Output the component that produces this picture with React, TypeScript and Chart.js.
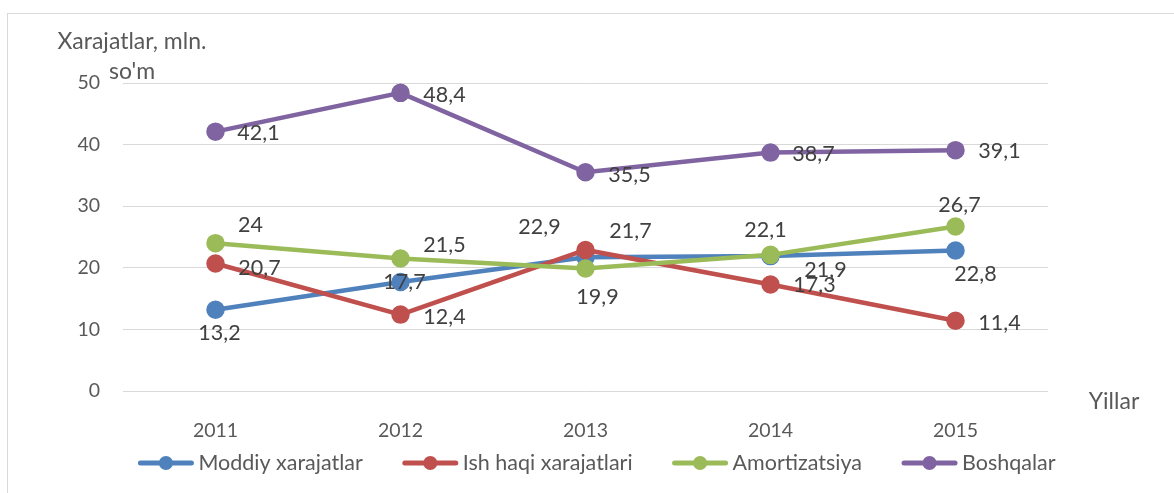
import React, { useEffect, useRef } from "react";
import { Chart, registerables } from "chart.js";

Chart.register(...registerables);

const years = ["2011", "2012", "2013", "2014", "2015"];
const seriesNames = ["Moddiy xarajatlar", "Ish haqi xarajatlari", "Amortizatsiya", "Boshqalar"];
const moddiy = [13.2, 17.7, 21.7, 21.9, 22.8];
const ishHaqi = [20.7, 12.4, 22.9, 17.3, 11.4];
const amortizatsiya = [24, 21.5, 19.9, 22.1, 26.7];
const boshqalar = [42.1, 48.4, 35.5, 38.7, 39.1];
const yTicks = [0, 10, 20, 30, 40, 50];

const colors = ["#4F81BD", "#C0504D", "#9BBB59", "#8064A2"];

// label offsets (px) relative to each point, per series
const labelOffsets: [number, number][][] = [
  [[4, 23], [4, 0], [45, -26], [55, 14], [20, 24]],
  [[44, 5], [44, 2], [-46, -23], [44, 1], [44, 2]],
  [[35, -18], [44, -13], [12, 29], [-5, -25], [4, -21]],
  [[43, 1], [44, 2], [44, 3], [43, 1], [44, 1]],
];

const FONT = "Lato, 'Open Sans', sans-serif";

export default function App() {
  const ref = useRef<HTMLCanvasElement | null>(null);
  useEffect(() => {
    if (!ref.current) return;
    const allSeries = [moddiy, ishHaqi, amortizatsiya, boshqalar];
    const overlay = {
      id: "overlay",
      afterDatasetsDraw(chart: any) {
        const ctx = chart.ctx;
        ctx.save();
        // data labels
        ctx.font = `21.5px ${FONT}`;
        ctx.fillStyle = "#404040";
        ctx.textAlign = "center";
        ctx.textBaseline = "middle";
        chart.data.datasets.forEach((ds: any, i: number) => {
          const meta = chart.getDatasetMeta(i);
          meta.data.forEach((pt: any, j: number) => {
            const [dx, dy] = labelOffsets[i][j];
            const txt = String(ds.data[j]).replace(".", ",");
            ctx.fillText(txt, pt.x + dx, pt.y + dy);
          });
        });
        // axis titles
        ctx.fillStyle = "#595959";
        ctx.font = `23px ${FONT}`;
        ctx.fillText("Xarajatlar, mln.", 132, 42);
        ctx.fillText("so'm", 132, 72);
        ctx.fillText("Yillar", 1114, 402);
        // legend
        ctx.font = `21.5px ${FONT}`;
        const lineLen = 55;
        const textGap = 5;
        const itemGap = 40;
        const widths = seriesNames.map((n) => ctx.measureText(n).width);
        const total = widths.reduce((a, w) => a + lineLen + textGap + w, 0) + itemGap * (seriesNames.length - 1);
        let x = 597 - total / 2;
        const y = 463;
        seriesNames.forEach((n, i) => {
          ctx.strokeStyle = colors[i];
          ctx.lineWidth = 5;
          ctx.lineCap = "round";
          ctx.beginPath();
          ctx.moveTo(x + 2, y);
          ctx.lineTo(x + lineLen - 2, y);
          ctx.stroke();
          ctx.fillStyle = colors[i];
          ctx.beginPath();
          ctx.arc(x + lineLen / 2, y, 7, 0, Math.PI * 2);
          ctx.fill();
          ctx.fillStyle = "#595959";
          ctx.textAlign = "left";
          ctx.fillText(n, x + lineLen + textGap, y);
          x += lineLen + textGap + widths[i] + itemGap;
        });
        ctx.restore();
      },
    };
    const chart = new Chart(ref.current, {
      type: "line",
      data: {
        labels: years,
        datasets: allSeries.map((d, i) => ({
          label: seriesNames[i],
          data: d,
          borderColor: colors[i],
          backgroundColor: colors[i],
          pointBackgroundColor: colors[i],
          pointBorderColor: colors[i],
          borderWidth: 4.5,
          pointRadius: 7,
          pointHoverRadius: 7,
          tension: 0,
          order: 4 - i,
        })),
      },
      options: {
        animation: false,
        responsive: true,
        maintainAspectRatio: false,
        layout: { padding: { top: 83, right: 126, left: 0, bottom: 0 } },
        plugins: { legend: { display: false }, tooltip: { enabled: false }, title: { display: false } },
        scales: {
          x: {
            offset: true,
            grid: { display: false },
            border: { display: false },
            ticks: { color: "#595959", font: { family: FONT, size: 19.5 }, padding: 20 },
            afterFit: (s: any) => {
              s.height = 102;
            },
          },
          y: {
            min: 0,
            max: 50,
            afterBuildTicks: (s: any) => {
              s.ticks = yTicks.map((v) => ({ value: v }));
            },
            grid: { color: "#d9d9d9", lineWidth: 1, drawTicks: false },
            border: { display: false },
            ticks: { color: "#595959", font: { family: FONT, size: 19.5 }, padding: 23 },
            afterFit: (s: any) => {
              s.width = 123;
            },
          },
        },
      },
      plugins: [overlay],
    });
    return () => chart.destroy();
  }, []);
  return (
    <div style={{ position: "absolute", left: 0, top: 0, width: 1174, height: 493, overflow: "hidden", background: "#fff" }}>
      <div
        style={{
          position: "absolute",
          left: 7,
          top: 13,
          width: 1200,
          height: 520,
          borderTop: "1px solid #d9d9d9",
          borderLeft: "1px solid #d9d9d9",
        }}
      />
      <canvas ref={ref} style={{ position: "absolute", left: 0, top: 0, width: 1174, height: 493 }} />
    </div>
  );
}
